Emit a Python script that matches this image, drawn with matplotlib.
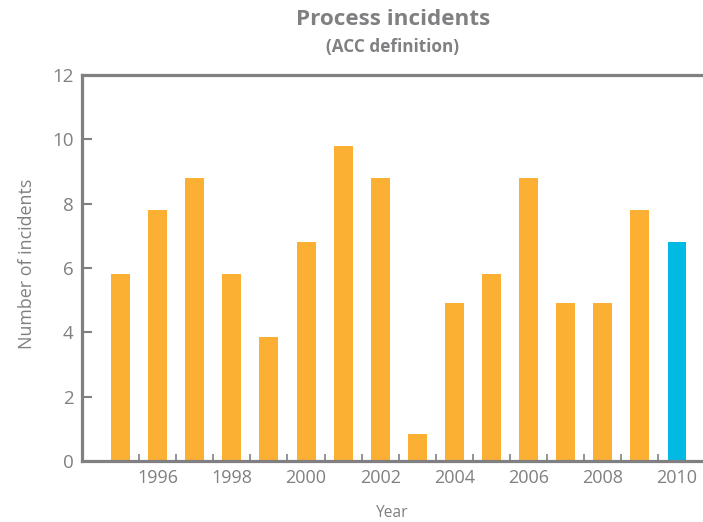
import numpy as np
import matplotlib.pyplot as plt

plt.rcParams['font.family'] = ['Open Sans', 'DejaVu Sans']

# incidents per year
years = [1995, 1996, 1997, 1998, 1999, 2000, 2001, 2002,
         2003, 2004, 2005, 2006, 2007, 2008, 2009, 2010]
incidents = [5.8, 7.8, 8.8, 5.8, 3.85, 6.8, 9.8, 8.8,
             0.85, 4.9, 5.8, 8.8, 4.9, 4.9, 7.8, 6.8]
label_years = [1996, 1998, 2000, 2002, 2004, 2006, 2008, 2010]

grey = '#808083'
orange = '#FBB034'
blue = '#00BAE3'
colors = [orange] * (len(years) - 1) + [blue]   # latest year highlighted

fig = plt.figure(figsize=(7.03, 5.22), dpi=100)
ax = fig.add_axes([0.1166, 0.1169, 0.8834, 0.7394])

ax.bar(years, incidents, width=0.51, color=colors, zorder=2)

ax.set_xlim(1993.96, 2010.7)
ax.set_ylim(0, 12)
ax.set_yticks(np.arange(0, 13, 2))

# year labels under the bars, small tick marks between bars
ax.set_xticks(label_years)
ax.set_xticks(np.arange(1995.5, 2010, 1), minor=True)
ax.tick_params(axis='x', which='major', length=0, pad=6, labelsize=13, labelcolor=grey)
ax.tick_params(axis='x', which='minor', direction='in', length=5, width=1.2, color=grey)
ax.tick_params(axis='y', direction='in', length=7, width=1.5, color=grey,
               pad=6, labelsize=13.5, labelcolor=grey)

ax.spines['right'].set_visible(False)
for side in ['left', 'bottom', 'top']:
    ax.spines[side].set_color(grey)
    ax.spines[side].set_linewidth(2.3)

ax.set_ylabel('Number of incidents', fontsize=12.9, color=grey)
ax.yaxis.set_label_coords(-0.074, 0.51)
ax.set_xlabel('Year', fontsize=11.2, color=grey)
ax.xaxis.set_label_coords(0.5, -0.114)

fig.text(0.559, 0.962, 'Process incidents', ha='center', va='center',
         fontsize=16.2, fontweight='bold', color=grey)
fig.text(0.558, 0.910, '(ACC definition)', ha='center', va='center',
         fontsize=12.3, fontweight='bold', color=grey)

plt.savefig('out.png', dpi=100)
